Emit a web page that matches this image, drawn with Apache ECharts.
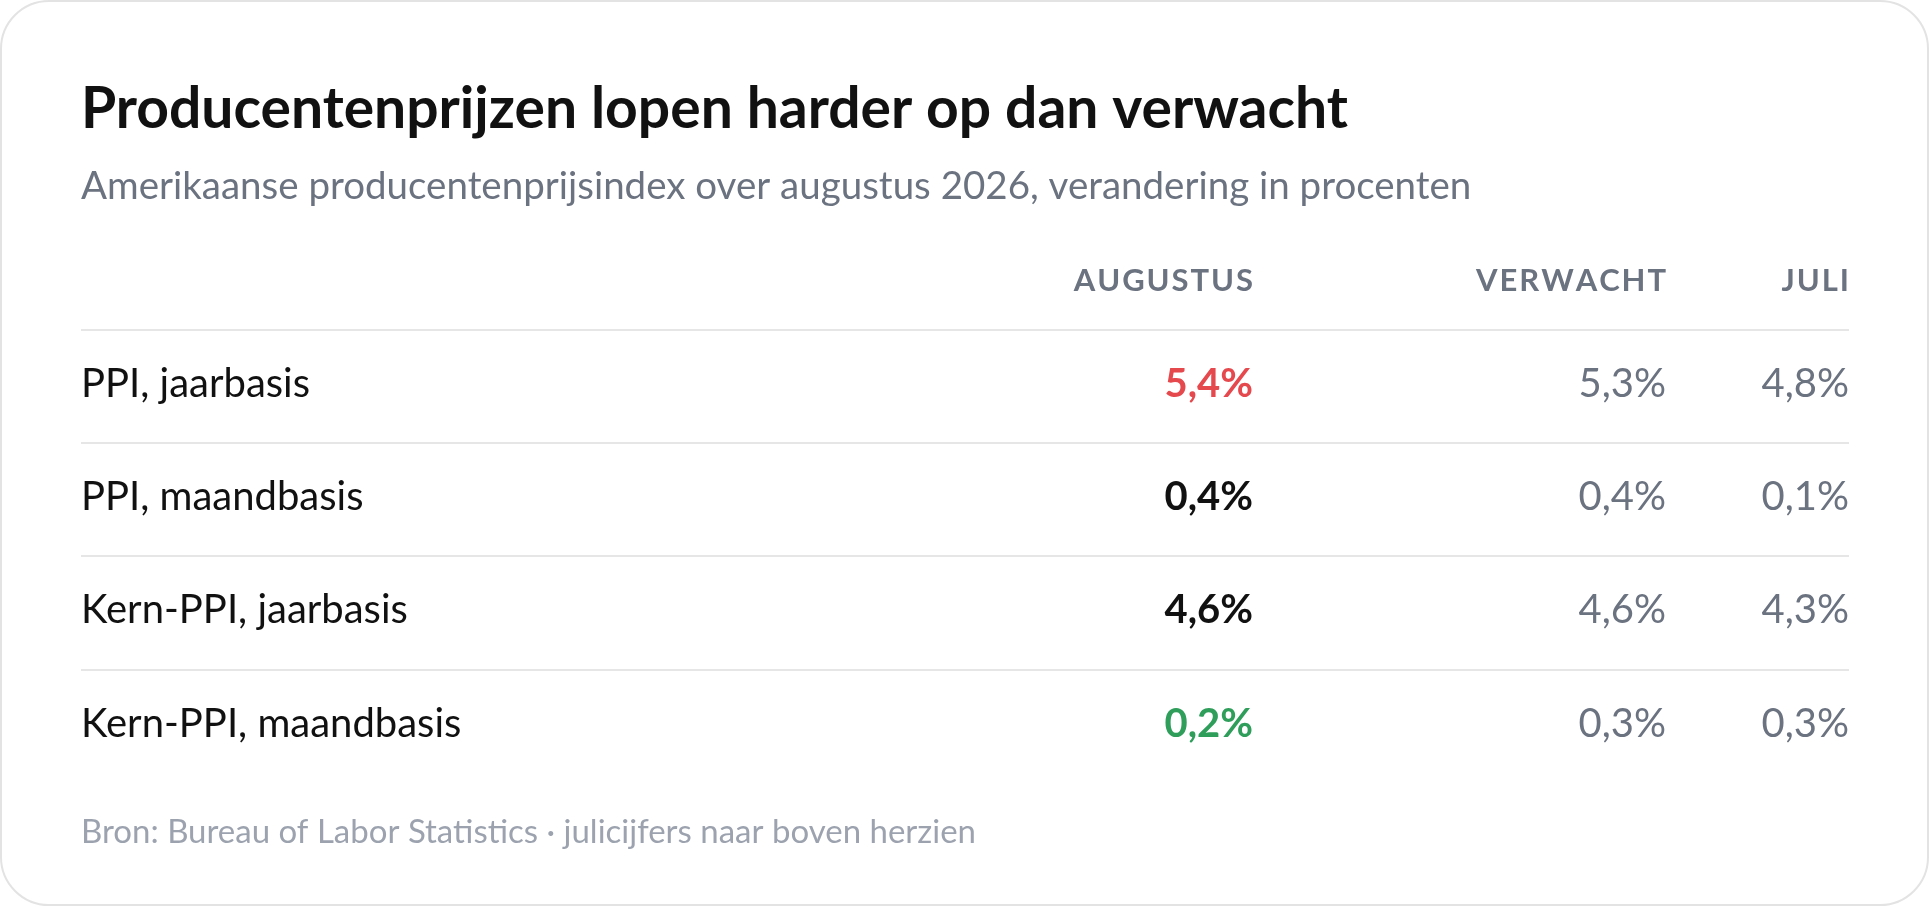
<!DOCTYPE html>
<html><head><meta charset="utf-8">
<script src="https://cdn.jsdelivr.net/npm/echarts@6/dist/echarts.min.js"></script>
<style>html,body{margin:0;padding:0;background:#fff}#c{width:1930px;height:907px}</style>
</head><body><div id="c"></div>
<script>
const title = "Producentenprijzen lopen harder op dan verwacht";
const subtitle = "Amerikaanse producentenprijsindex over augustus 2026, verandering in procenten";
const columns = ["AUGUSTUS", "VERWACHT", "JULI"];
const rowLabels = ["PPI, jaarbasis", "PPI, maandbasis", "Kern-PPI, jaarbasis", "Kern-PPI, maandbasis"];
const august = ["5,4%", "0,4%", "4,6%", "0,2%"];
const expected = ["5,3%", "0,4%", "4,6%", "0,3%"];
const july = ["4,8%", "0,1%", "4,3%", "0,3%"];
const augustTone = ["up", "neutral", "neutral", "down"];
const footer = "Bron: Bureau of Labor Statistics · julicijfers naar boven herzien";

const F = "Lato, 'Noto Sans', sans-serif";
const colX = [1253, 1666, 1849];
const left = 81, right = 1849;
const lineY = [330, 443, 556, 670];
const rowH = 113;
const toneColor = {up:"#e5484d", down:"#2f9e5b", neutral:"#111111"};
const els = [];
els.push({type:'rect', shape:{x:1,y:1,width:1927,height:904,r:48}, style:{fill:'#fff',stroke:'#e3e3e3',lineWidth:2}});
els.push({type:'text', x:left, y:110, style:{text:title, font:`bold 57px ${F}`, fill:'#111', textVerticalAlign:'middle'}});
els.push({type:'text', x:left, y:187, style:{text:subtitle, font:`38.5px ${F}`, fill:'#6b7280', textVerticalAlign:'middle'}});
columns.forEach((c,i)=>els.push({type:'text', x:colX[i], y:281, style:{text:c.split('').join('\u200a'), font:`bold 31px ${F}`, fill:'#6b7280', textAlign:'right', textVerticalAlign:'middle'}}));
lineY.forEach(y=>els.push({type:'line', shape:{x1:left,y1:y,x2:right,y2:y}, style:{stroke:'#e6e6e6',lineWidth:2}}));
rowLabels.forEach((r,i)=>{
  const y = lineY[i] + rowH/2 - 2;
  els.push({type:'text', x:left, y, style:{text:r, font:`40px ${F}`, fill:'#111', textVerticalAlign:'middle'}});
  els.push({type:'text', x:colX[0], y, style:{text:august[i], font:`bold 40px ${F}`, fill:toneColor[augustTone[i]], textAlign:'right', textVerticalAlign:'middle'}});
  els.push({type:'text', x:colX[1], y, style:{text:expected[i], font:`40px ${F}`, fill:'#6b7280', textAlign:'right', textVerticalAlign:'middle'}});
  els.push({type:'text', x:colX[2], y, style:{text:july[i], font:`40px ${F}`, fill:'#6b7280', textAlign:'right', textVerticalAlign:'middle'}});
});
els.push({type:'text', x:left, y:832, style:{text:footer, font:`33px ${F}`, fill:'#9ca3af', textVerticalAlign:'middle'}});
const chart = echarts.init(document.getElementById('c'));
chart.setOption({animation:false, graphic:{elements:els}});
</script></body></html>
